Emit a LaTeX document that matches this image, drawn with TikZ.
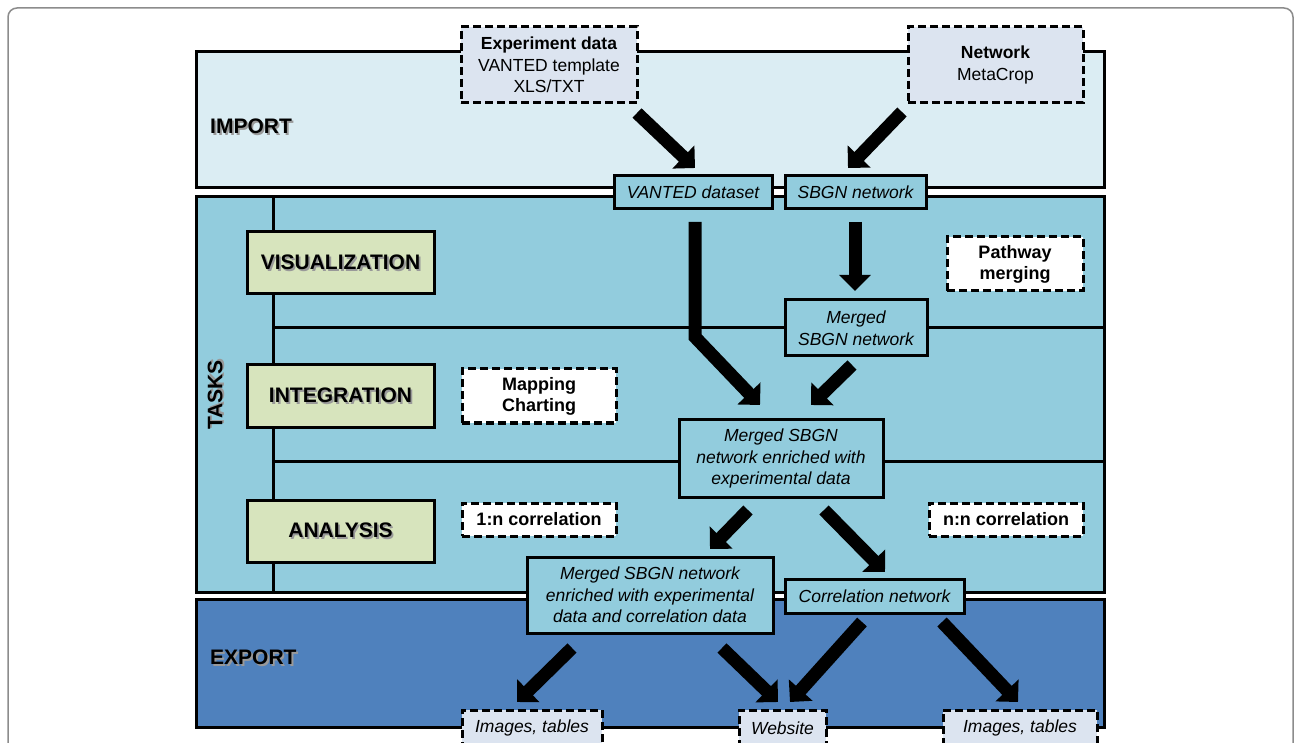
\documentclass[tikz,border=0pt]{standalone}
\usepackage{fontspec}
\setmainfont{Liberation Sans}
\usetikzlibrary{arrows.meta,calc}
\definecolor{importbg}{RGB}{219,237,243}
\definecolor{taskbg}{RGB}{146,204,221}
\definecolor{exportbg}{RGB}{79,129,189}
\definecolor{taskbox}{RGB}{215,228,189}
\definecolor{inbox}{RGB}{220,228,240}
\definecolor{framegray}{RGB}{140,140,140}
\newcommand{\shtxt}[1]{\makebox[0pt][l]{\raisebox{-1.8pt}{\hspace{1.8pt}\textcolor{black!40}{#1}}}#1}
\newcommand{\hfont}{\fontsize{21}{25}\selectfont\bfseries}
\newcommand{\bfont}{\fontsize{17.5}{21.5}\selectfont}
\newcommand{\dfont}{\fontsize{18}{21}\selectfont\bfseries}
\tikzset{
  band/.style={draw=black, line width=3pt},
  sep/.style={draw=black, line width=3pt},
  taskstyle/.style={draw, line width=3pt, fill=taskbox, minimum width=187pt, minimum height=62pt, inner sep=0pt, font=\hfont},
  heading/.style={inner sep=0pt, font=\hfont},
  dbox/.style={draw, line width=3pt, dash pattern=on 8pt off 4pt, inner sep=0pt, align=center},
  inputbox/.style={dbox, fill=inbox, font=\bfont},
  methbox/.style={dbox, fill=white, font=\dfont},
  resbox/.style={draw, line width=3pt, fill=taskbg, inner sep=0pt, align=center, font=\bfont\itshape},
  bigarrow/.style={line width=13pt, -{Triangle[width=31pt,length=16pt]}, line join=miter},
}
\begin{document}
\begin{tikzpicture}[x=1pt,y=-1pt]
\useasboundingbox (0,0) rectangle (1294,743);
\fill[white] (0,0) rectangle (1294,743);
\draw[framegray, line width=1.5pt, rounded corners=9pt] (8,8) rectangle (1293,790);
% bands
\draw[band, fill=importbg] (196,52) rectangle (1104,188);
\draw[band, fill=taskbg] (196,197) rectangle (1104,592);
\draw[band, fill=exportbg] (196,599) rectangle (1104,727);
\draw[sep] (273,197) -- (273,592);
\draw[sep] (273,328) -- (1104,328);
\draw[sep] (273,461) -- (1104,461);
% headings
\node[heading, anchor=west] (import) at (210,127) {\shtxt{IMPORT}};
\node[heading, anchor=west] (export) at (210,658) {\shtxt{EXPORT}};
\node[heading, rotate=90] (tasks) at (216,395) {\shtxt{TASKS}};
% task boxes
\node[taskstyle] (vis) at (340.5,263) {\shtxt{VISUALIZATION}};
\node[taskstyle] (integ) at (340.5,396) {\shtxt{INTEGRATION}};
\node[taskstyle] (anal) at (340.5,531) {\shtxt{ANALYSIS}};
% method boxes
\node[methbox, minimum width=154pt, minimum height=54pt] (map) at (539,396) {Mapping\\Charting};
\node[methbox, minimum width=154pt, minimum height=33pt] (corr1) at (539,519.5) {1:n correlation};
\node[methbox, minimum width=136pt, minimum height=54pt] (pathway) at (1015,264) {Pathway\\merging};
\node[methbox, minimum width=154pt, minimum height=33pt] (nncorr) at (1006,519.5) {n:n correlation};
% input boxes
\node[inputbox, minimum width=176pt, minimum height=76pt] (exp) at (549,65) {\textbf{Experiment data}\\VANTED template\\XLS/TXT};
\node[inputbox, minimum width=175pt, minimum height=76pt] (net) at (995.5,65) {\textbf{Network}\\MetaCrop};
% result boxes
\node[resbox, minimum width=158pt, minimum height=33pt] (vds) at (693,192.5) {VANTED dataset};
\node[resbox, minimum width=141pt, minimum height=33pt] (sbgn) at (855.5,192.5) {SBGN network};
\node[resbox, minimum width=142pt, minimum height=56pt] (merged) at (856,328) {Merged\\SBGN network};
\node[resbox, minimum width=204pt, minimum height=77pt] (enriched) at (781,458.5) {Merged SBGN\\network enriched with\\experimental data};
\node[resbox, minimum width=246pt, minimum height=76pt] (mcorr) at (650,595) {Merged SBGN network\\enriched with experimental\\data and correlation data};
\node[resbox, minimum width=179pt, minimum height=34pt] (corrnet) at (874.5,596) {Correlation network};
% output boxes
\node[inputbox, font=\bfont\itshape, minimum width=140pt, minimum height=36pt] (img1) at (532,728) {Images, tables};
\node[inputbox, font=\bfont\itshape, minimum width=87pt, minimum height=36pt] (web) at (782.5,728) {Website};
\node[inputbox, font=\bfont\itshape, minimum width=154pt, minimum height=36pt] (img2) at (1020,728) {Images, tables};
% arrow end points
\coordinate (a1s) at (637,113); \coordinate (a1e) at (695,168);
\coordinate (a2s) at (902,112); \coordinate (a2e) at (848,168);
\coordinate (a3s) at (695,222); \coordinate (a3m) at (695,337); \coordinate (a3e) at (760,405);
\coordinate (a4s) at (855,222); \coordinate (a4e) at (855,291);
\coordinate (a5s) at (852,365); \coordinate (a5e) at (811,405);
\coordinate (a6s) at (748,510); \coordinate (a6e) at (710,549);
\coordinate (a7s) at (824,510); \coordinate (a7e) at (885,572);
\coordinate (a8s) at (572,648); \coordinate (a8e) at (517,702);
\coordinate (a9s) at (722,648); \coordinate (a9e) at (778,702);
\coordinate (a10s) at (862,622); \coordinate (a10e) at (790,702);
\coordinate (a11s) at (942,622); \coordinate (a11e) at (1018,702);
% arrows
\draw[bigarrow] (a1s) -- (a1e);
\draw[bigarrow] (a2s) -- (a2e);
\draw[bigarrow] (a3s) -- (a3m) -- (a3e);
\draw[bigarrow] (a4s) -- (a4e);
\draw[bigarrow] (a5s) -- (a5e);
\draw[bigarrow] (a6s) -- (a6e);
\draw[bigarrow] (a7s) -- (a7e);
\draw[bigarrow] (a8s) -- (a8e);
\draw[bigarrow] (a9s) -- (a9e);
\draw[bigarrow] (a10s) -- (a10e);
\draw[bigarrow] (a11s) -- (a11e);
\end{tikzpicture}
\end{document}
